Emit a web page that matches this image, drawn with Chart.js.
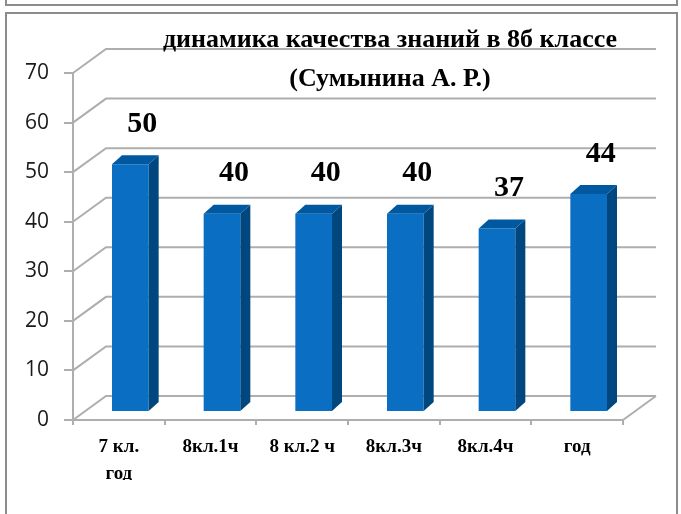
<!DOCTYPE html>
<html>
<head>
<meta charset="utf-8">
<script src="https://cdn.jsdelivr.net/npm/chart.js@4/dist/chart.umd.min.js"></script>
<style>
    body { margin: 0; background: #fff; }
    #wrap { position: relative; width: 681px; height: 514px; overflow: hidden; }
    #chart { position: absolute; left: 0; top: 0; }
    .frame { position: absolute; border: 2px solid #8c8c8c; box-sizing: border-box; }
</style>
</head>
<body>
<div id="wrap">
    <div class="frame" style="left:5px; top:-10px; width:673px; height:16px;"></div>
    <div class="frame" style="left:5px; top:12px; width:673px; height:520px;"></div>
    <canvas id="chart" width="681" height="514"></canvas>
</div>
<script>
// ------------------ Data ------------------
const categories = [["7 кл.", "год"], "8кл.1ч", "8 кл.2 ч", "8кл.3ч", "8кл.4ч", "год"];
const values = [50, 40, 40, 40, 37, 44];
const titleLines = ["динамика качества знаний в 8б классе", "(Сумынина А. Р.)"];
const yMin = 0;
const yMax = 70;
const yStep = 10;

// ------------------ 3D look ------------------
const WALL_DX = 33, WALL_DY = -24;   // depth of the back wall / floor
const BAR_DX = 11.5, BAR_DY = -8;    // bars sit a bit inside the floor
const SIDE_DX = 10, SIDE_DY = -9;    // depth of each bar
const GRID = "#aeaeae";

const fake3d = {
    id: "fake3d",
    beforeDatasetsDraw(chart) {
        const ctx = chart.ctx;
        const area = chart.chartArea;
        const y = chart.scales.y;
        ctx.save();
        ctx.strokeStyle = GRID;
        ctx.lineWidth = 2;
        // diagonals from front ticks + back wall lines
        y.ticks.forEach(t => {
            const py = y.getPixelForValue(t.value);
            ctx.beginPath();
            ctx.moveTo(area.left, py);
            ctx.lineTo(area.left + WALL_DX, py + WALL_DY);
            ctx.lineTo(area.right + WALL_DX, py + WALL_DY);
            ctx.stroke();
        });
        // floor right edge
        const y0 = y.getPixelForValue(yMin);
        ctx.beginPath();
        ctx.moveTo(area.right, y0);
        ctx.lineTo(area.right + WALL_DX, y0 + WALL_DY);
        ctx.stroke();
        ctx.restore();

        // shift the bars into the floor
        ctx.save();
        ctx.translate(BAR_DX, BAR_DY);
    },
    afterDatasetsDraw(chart) {
        const ctx = chart.ctx;
        const meta = chart.getDatasetMeta(0);
        meta.data.forEach((bar, i) => {
            const l = bar.x - bar.width / 2;
            const r = bar.x + bar.width / 2;
            // side face
            ctx.fillStyle = "#00477f";
            ctx.beginPath();
            ctx.moveTo(r, bar.y);
            ctx.lineTo(r + SIDE_DX, bar.y + SIDE_DY);
            ctx.lineTo(r + SIDE_DX, bar.base + SIDE_DY);
            ctx.lineTo(r, bar.base);
            ctx.closePath();
            ctx.fill();
            // top face
            ctx.fillStyle = "#0058a0";
            ctx.beginPath();
            ctx.moveTo(l, bar.y);
            ctx.lineTo(l + SIDE_DX, bar.y + SIDE_DY);
            ctx.lineTo(r + SIDE_DX, bar.y + SIDE_DY);
            ctx.lineTo(r, bar.y);
            ctx.closePath();
            ctx.fill();
        });
        ctx.restore();

        // value labels
        ctx.save();
        ctx.fillStyle = "#000";
        ctx.font = "bold 30px 'Liberation Serif'";
        ctx.textAlign = "center";
        ctx.textBaseline = "middle";
        meta.data.forEach((bar, i) => {
            ctx.fillText(String(values[i]), bar.x + BAR_DX + 12, bar.y + BAR_DY - 40);
        });
        ctx.restore();
    },
    afterDraw(chart) {
        const ctx = chart.ctx;
        ctx.save();
        ctx.fillStyle = "#000";
        ctx.font = "bold 26px 'Liberation Serif'";
        ctx.textAlign = "center";
        ctx.textBaseline = "alphabetic";
        ctx.fillText(titleLines[0], 390, 47);
        ctx.fillText(titleLines[1], 390, 86);
        ctx.restore();
    }
};

// ------------------ Chart ------------------
new Chart(document.getElementById("chart"), {
    type: "bar",
    data: {
        labels: categories,
        datasets: [{
            data: values,
            backgroundColor: "#0a6fc2",
            borderWidth: 0,
            barPercentage: 0.4,
            categoryPercentage: 1
        }]
    },
    options: {
        responsive: false,
        animation: false,
        layout: { padding: { top: 73, right: 58, bottom: 34, left: 0 } },
        plugins: {
            legend: { display: false },
            title: { display: false },
            tooltip: { enabled: false }
        },
        scales: {
            x: {
                afterFit: scale => { scale.height = 60; },
                grid: { drawOnChartArea: false, offset: true, color: GRID, lineWidth: 2, tickLength: 5 },
                border: { color: GRID, width: 2 },
                ticks: {
                    color: "#000",
                    font: { family: "'Liberation Serif'", size: 19, weight: "bold", lineHeight: 1.45 },
                    padding: 8,
                    maxRotation: 0,
                    autoSkip: false
                }
            },
            y: {
                min: yMin,
                max: yMax,
                afterFit: scale => { scale.width = 73; },
                grid: { drawOnChartArea: false, color: GRID, lineWidth: 2, tickLength: 9 },
                border: { color: GRID, width: 2 },
                ticks: {
                    stepSize: yStep,
                    color: "#1a1a1a",
                    font: { family: "'Open Sans'", size: 21 },
                    padding: 15
                }
            }
        }
    },
    plugins: [fake3d]
});
</script>
</body>
</html>
